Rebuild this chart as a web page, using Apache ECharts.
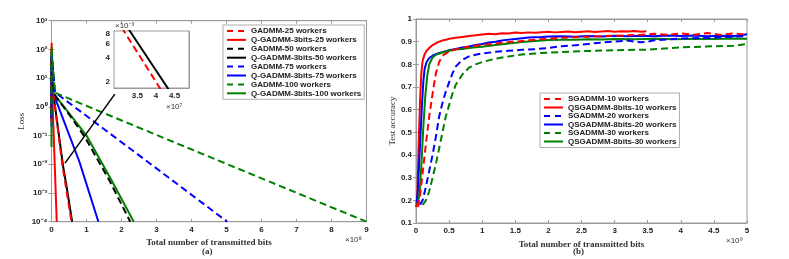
<!DOCTYPE html>
<html><head><meta charset="utf-8">
<script src="https://cdn.jsdelivr.net/npm/echarts@6/dist/echarts.min.js"></script>
<style>html,body{margin:0;padding:0;background:#fff}#c{width:789px;height:259px}</style>
</head><body><div id="c"></div>
<script>
// ---------- (a) Loss vs transmitted bits (x in 1e8) ----------
const lossTicks = [1e-4, 1e-3, 1e-2, 1e-1, 1, 10, 100, 1000];
const leftNames = ['GADMM-25 workers','Q-GADMM-3bits-25 workers','GADMM-50 workers','Q-GADMM-3bits-50 workers','GADMM-75 workers','Q-GADMM-3bits-75 workers','GADMM-100 workers','Q-GADMM-3bits-100 workers'];
const gadmm25 = [[0,0.3],[0.004,120],[0.05,3],[0.314,0.0088],[0.409,0.0017],[0.57,1e-4]];
const qgadmm25 = [[0,0.4],[0.004,170],[0.02,3],[0.15,1e-4]];
const gadmm50 = [[0,0.5],[0.004,60],[0.05,3],[0.5,0.55],[0.95,0.09],[1.65,0.0028],[2.25,1e-4]];
const qgadmm50 = [[0,0.5],[0.004,50],[0.05,3],[0.33,0.0088],[0.43,0.0017],[0.59,1e-4]];
const gadmm75 = [[0,0.4],[0.004,80],[0.1,3.2],[2.96,0.0078],[5.02,1e-4]];
const qgadmm75 = [[0,0.2],[0.004,80],[0.05,3],[0.8,0.012],[1.34,1e-4]];
const gadmm100 = [[0,0.5],[0.004,100],[0.1,3.1],[2.96,0.11],[9,1e-4]];
const qgadmm100 = [[0,0.04],[0.004,120],[0.05,3],[0.5,0.6],[1.0,0.1],[1.7,0.003],[2.35,1e-4]];
const insetYTicks = [0.002, 0.004, 0.006, 0.008];
const insetXTicks = [3.5, 4, 4.5];
const arrowFrom = [1.81, 2.77];
const arrowTo = [0.386, 0.011];

// ---------- (b) Test accuracy vs transmitted bits (x in 1e9) ----------
const rightNames = ['SGADMM-10 workers','QSGADMM-8bits-10 workers','SGADMM-20 workers','QSGADMM-8bits-20 workers','SGADMM-30 workers','QSGADMM-8bits-30 workers'];
const sg10 = [[0.03,0.17],[0.06,0.22],[0.1,0.32],[0.15,0.45],[0.2,0.57],[0.25,0.67],[0.3,0.76],[0.35,0.81],[0.4,0.838],[0.5,0.856],[0.6,0.866],[0.7,0.873],[0.8,0.878],[0.9,0.882],[1.0,0.886],[1.1,0.889],[1.2,0.892],[1.3,0.895],[1.4,0.898],[1.5,0.9],[1.6,0.903],[1.7,0.906],[1.8,0.909],[1.9,0.911],[2.0,0.914],[2.2,0.917],[2.4,0.92],[2.6,0.922],[2.8,0.924],[3.0,0.926],[3.2,0.928],[3.4,0.93],[3.6,0.935],[3.8,0.93],[4.0,0.936],[4.2,0.931],[4.4,0.938],[4.6,0.93],[4.8,0.937],[5.0,0.93]];
const qs10 = [[0.0,0.17],[0.02,0.21],[0.04,0.45],[0.06,0.63],[0.08,0.76],[0.1,0.815],[0.13,0.845],[0.16,0.86],[0.2,0.872],[0.25,0.885],[0.3,0.893],[0.35,0.9],[0.4,0.905],[0.45,0.908],[0.5,0.913],[0.6,0.917],[0.7,0.921],[0.8,0.925],[0.9,0.928],[1.0,0.932],[1.1,0.935],[1.2,0.933],[1.3,0.937],[1.4,0.936],[1.5,0.94],[1.6,0.938],[1.7,0.941],[1.8,0.939],[1.9,0.942],[2.0,0.944],[2.1,0.941],[2.2,0.943],[2.3,0.945],[2.4,0.942],[2.5,0.944],[2.6,0.946],[2.7,0.943],[2.8,0.945],[2.9,0.947],[3.0,0.944],[3.1,0.946],[3.2,0.945],[3.3,0.947],[3.4,0.944],[3.48,0.946]];
const sg20 = [[0.06,0.18],[0.1,0.2],[0.15,0.26],[0.2,0.33],[0.25,0.4],[0.3,0.48],[0.35,0.57],[0.4,0.63],[0.45,0.68],[0.5,0.72],[0.55,0.76],[0.6,0.79],[0.7,0.82],[0.8,0.835],[0.9,0.842],[1.0,0.848],[1.2,0.855],[1.4,0.86],[1.6,0.864],[1.8,0.867],[2.0,0.872],[2.2,0.88],[2.4,0.884],[2.6,0.89],[2.8,0.896],[3.0,0.9],[3.2,0.905],[3.3,0.9],[3.4,0.897],[3.5,0.9],[3.6,0.906],[3.8,0.91],[4.0,0.914],[4.5,0.918],[5.0,0.925]];
const qs20 = [[0.01,0.19],[0.03,0.25],[0.05,0.38],[0.07,0.5],[0.09,0.62],[0.11,0.72],[0.13,0.78],[0.16,0.81],[0.2,0.828],[0.25,0.838],[0.3,0.845],[0.35,0.85],[0.4,0.854],[0.5,0.862],[0.6,0.868],[0.7,0.874],[0.8,0.879],[0.9,0.885],[1.0,0.89],[1.1,0.896],[1.2,0.9],[1.3,0.905],[1.4,0.909],[1.5,0.912],[1.6,0.915],[1.7,0.918],[1.8,0.92],[1.9,0.921],[2.0,0.923],[2.2,0.924],[2.4,0.922],[2.6,0.925],[2.8,0.923],[3.0,0.926],[3.2,0.924],[3.4,0.926],[3.6,0.924],[3.8,0.927],[4.0,0.925],[4.2,0.927],[4.4,0.924],[4.6,0.926],[4.8,0.925],[4.9,0.928],[5.0,0.933]];
const sg30 = [[0.1,0.18],[0.15,0.2],[0.2,0.24],[0.25,0.3],[0.3,0.36],[0.35,0.43],[0.4,0.5],[0.45,0.57],[0.5,0.62],[0.55,0.67],[0.6,0.71],[0.7,0.755],[0.8,0.785],[0.9,0.8],[1.0,0.81],[1.2,0.825],[1.4,0.835],[1.6,0.843],[1.8,0.848],[2.0,0.852],[2.5,0.858],[3.0,0.862],[3.5,0.865],[4.0,0.875],[4.5,0.88],[4.8,0.882],[5.0,0.89]];
const qs30 = [[0.02,0.18],[0.05,0.22],[0.08,0.35],[0.11,0.52],[0.14,0.66],[0.17,0.75],[0.2,0.8],[0.25,0.83],[0.3,0.842],[0.4,0.852],[0.5,0.86],[0.6,0.865],[0.7,0.868],[0.8,0.872],[0.9,0.875],[1.0,0.878],[1.2,0.885],[1.4,0.892],[1.6,0.898],[1.8,0.903],[2.0,0.907],[2.2,0.909],[2.4,0.908],[2.6,0.911],[2.8,0.91],[3.0,0.912],[3.3,0.911],[3.6,0.913],[3.9,0.911],[4.2,0.913],[4.5,0.912],[4.8,0.914],[5.0,0.913]];

const RED='#ff0000', BLK='#000000', BLU='#0000ff', GRN='#008000';
const DASH=[7,4];
const sansB = {fontFamily:'Liberation Sans', fontWeight:'bold', fontSize:8, color:'#222'};
const serifB = {fontFamily:'Liberation Serif', fontWeight:'bold', fontSize:9, color:'#333'};
const AX = '#9a9a9a';

function sup(n){const m={'0':'⁰','1':'¹','2':'²','3':'³','4':'⁴','5':'⁵','6':'⁶','7':'⁷','8':'⁸','9':'⁹','-':'⁻'};return String(n).split('').map(c=>m[c]).join('');}

function line(name, data, color, dashed, xi, yi, extra){
  return Object.assign({type:'line', name, data, xAxisIndex:xi, yAxisIndex:yi, showSymbol:false, symbol:'none',
    lineStyle:{color, width:2, type: dashed?DASH:'solid'}, itemStyle:{color}, z: dashed?3:2, clip:true}, extra||{});
}
function legendItems(names){
  return names.map((n,i)=>({name:n, itemStyle:{opacity:0}, lineStyle:{width:2, type: i%2===0?[6,5]:'solid'}}));
}
const tickIn = {inside:true, length:3, lineStyle:{color:AX}};
function valX(grid, min, max, interval, pos, labels){
  return {type:'value', gridIndex:grid, min, max, interval, position:pos,
    axisLine:{show:true, onZero:false, lineStyle:{color:AX}}, axisTick:tickIn, splitLine:{show:false},
    axisLabel:{show:labels, margin:4, ...sansB}};
}
const inset = (d)=>d.map(p=>[p[0]*10, p[1]]);

const option = {
  animation:false,
  backgroundColor:'#fff',
  grid:[
    {left:51.5, top:20.7, width:315, height:201, show:true, borderColor:AX, borderWidth:1},
    {left:416, top:19, width:331, height:204, show:true, borderColor:AX, borderWidth:1},
    {left:114, top:31, width:75, height:57, show:true, borderColor:AX, borderWidth:1, backgroundColor:'#fff', z:10}
  ],
  xAxis:[
    Object.assign(valX(0,0,9,1,'bottom',true), {name:'Total number of transmitted bits', nameLocation:'middle', nameGap:13, nameTextStyle:serifB}),
    valX(0,0,9,1,'top',false),
    Object.assign(valX(1,0,5,0.5,'bottom',true), {name:'Total number of transmitted bits', nameLocation:'middle', nameGap:13, nameTextStyle:serifB}),
    valX(1,0,5,0.5,'top',false),
    Object.assign(valX(2,2.875,4.885,null,'bottom',true), {axisTick:Object.assign({},tickIn,{customValues:insetXTicks}), axisLabel:Object.assign({show:true, margin:4, customValues:insetXTicks},sansB)}),
    Object.assign(valX(2,2.875,4.885,null,'top',false), {axisTick:Object.assign({},tickIn,{customValues:insetXTicks})})
  ],
  yAxis:[
    {type:'log', gridIndex:0, min:1e-4, max:1e3, position:'left',
     axisLine:{show:true, lineStyle:{color:AX}}, axisTick:Object.assign({},tickIn,{customValues:lossTicks}), splitLine:{show:false},
     axisLabel:Object.assign({customValues:lossTicks, margin:4, formatter:v=>'10'+sup(Math.round(Math.log10(v)))},sansB),
     name:'Loss', nameLocation:'middle', nameGap:25, nameTextStyle:{fontFamily:'Liberation Serif', fontSize:9, color:'#333'}},
    {type:'log', gridIndex:0, min:1e-4, max:1e3, position:'right',
     axisLine:{show:true, lineStyle:{color:AX}}, axisTick:Object.assign({},tickIn,{customValues:lossTicks}), splitLine:{show:false}, axisLabel:{show:false}},
    {type:'value', gridIndex:1, min:0.1, max:1, interval:0.1, position:'left',
     axisLine:{show:true, lineStyle:{color:AX}}, axisTick:tickIn, splitLine:{show:false},
     axisLabel:Object.assign({margin:4, formatter:v=>String(Math.round(v*10)/10)},sansB),
     name:'Test accuracy', nameLocation:'middle', nameGap:16, nameTextStyle:{fontFamily:'Liberation Serif', fontSize:9, color:'#333'}},
    {type:'value', gridIndex:1, min:0.1, max:1, interval:0.1, position:'right',
     axisLine:{show:true, lineStyle:{color:AX}}, axisTick:tickIn, splitLine:{show:false}, axisLabel:{show:false}},
    {type:'log', gridIndex:2, min:0.00166, max:0.0088, position:'left',
     axisLine:{show:true, lineStyle:{color:AX}}, axisTick:Object.assign({},tickIn,{customValues:insetYTicks}), splitLine:{show:false},
     axisLabel:Object.assign({customValues:insetYTicks, margin:4, formatter:v=>String(Math.round(v*1000))},sansB)},
    {type:'log', gridIndex:2, min:0.00166, max:0.0088, position:'right',
     axisLine:{show:true, lineStyle:{color:AX}}, axisTick:Object.assign({},tickIn,{customValues:insetYTicks}), splitLine:{show:false}, axisLabel:{show:false}}
  ],
  legend:[
    {data:legendItems(leftNames), orient:'vertical', left:223, top:25, itemWidth:19, itemHeight:7, itemGap:0.9, padding:[2,3,2,3],
     backgroundColor:'#fff', borderColor:'#999', borderWidth:0.8, textStyle:sansB, z:20},
    {data:legendItems(rightNames), orient:'vertical', left:540, top:93, itemWidth:19, itemHeight:7, itemGap:0.5, padding:[2,3,2,3],
     backgroundColor:'#fff', borderColor:'#999', borderWidth:0.8, textStyle:sansB, z:20}
  ],
  graphic:[
    {type:'text', left:345, top:236, style:{text:'×10'+sup(8), font:'8px "Liberation Sans"', fill:'#333'}},
    {type:'text', left:726, top:237, style:{text:'×10'+sup(9), font:'8px "Liberation Sans"', fill:'#333'}},
    {type:'text', left:166, top:103, z:30, style:{text:'×10'+sup(7), font:'8px "Liberation Sans"', fill:'#333'}},
    {type:'text', left:115, top:22, z:30, style:{text:'×10'+sup(-3), font:'8px "Liberation Sans"', fill:'#333'}},
    {type:'text', left:202, top:247, style:{text:'(a)', font:'bold 9px "Liberation Serif"', fill:'#333'}},
    {type:'text', left:573, top:247, style:{text:'(b)', font:'bold 9px "Liberation Serif"', fill:'#333'}}
  ],
  series:[
    line(leftNames[0], gadmm25, RED, true, 0, 0),
    line(leftNames[1], qgadmm25, RED, false, 0, 0),
    line(leftNames[2], gadmm50, BLK, true, 0, 0),
    line(leftNames[3], qgadmm50, BLK, false, 0, 0, {markLine:{silent:true, symbol:['none','arrow'], symbolSize:[0,9], label:{show:false},
      lineStyle:{color:'#000', width:1.5, type:'solid'}, data:[[{coord:arrowFrom},{coord:arrowTo}]]}}),
    line(leftNames[4], gadmm75, BLU, true, 0, 0),
    line(leftNames[5], qgadmm75, BLU, false, 0, 0),
    line(leftNames[6], gadmm100, GRN, true, 0, 0),
    line(leftNames[7], qgadmm100, GRN, false, 0, 0),
    line(leftNames[0], inset(gadmm25), RED, true, 4, 4, {z:12}),
    line(leftNames[3], inset(qgadmm50), BLK, false, 4, 4, {z:12}),
    line(rightNames[0], sg10, RED, true, 2, 2),
    line(rightNames[1], qs10, RED, false, 2, 2),
    line(rightNames[2], sg20, BLU, true, 2, 2),
    line(rightNames[3], qs20, BLU, false, 2, 2),
    line(rightNames[4], sg30, GRN, true, 2, 2),
    line(rightNames[5], qs30, GRN, false, 2, 2)
  ]
};
const chart = echarts.init(document.getElementById('c'), null, {renderer:'canvas'});
chart.setOption(option);
</script></body></html>
